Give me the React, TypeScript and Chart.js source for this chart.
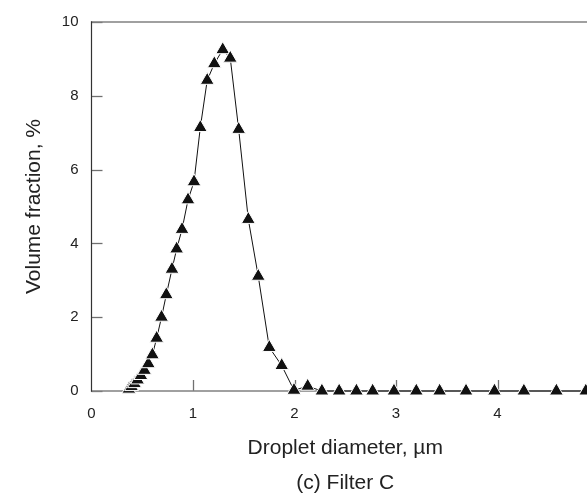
import React, { useEffect, useRef } from "react";
import { Chart, registerables } from "chart.js";

Chart.register(...registerables);

const diameters = [
  0.368, 0.395, 0.424, 0.454, 0.487, 0.522, 0.56, 0.6, 0.642, 0.69, 0.737,
  0.793, 0.839, 0.892, 0.951, 1.01, 1.072, 1.14, 1.21, 1.293, 1.367, 1.45,
  1.545, 1.643, 1.752, 1.874, 1.995, 2.13, 2.27, 2.44, 2.61, 2.77, 2.98, 3.2,
  3.43, 3.69, 3.97, 4.26, 4.58, 4.87,
];
const volumeFraction = [
  0.05, 0.12, 0.2, 0.3, 0.42, 0.56, 0.74, 0.98, 1.43, 2.0, 2.61, 3.3, 3.85,
  4.38, 5.18, 5.67, 7.14, 8.42, 8.87, 9.25, 9.02, 7.09, 4.65, 3.11, 1.18, 0.69,
  0.02, 0.13, 0, 0, 0, 0, 0, 0, 0, 0, 0, 0, 0, 0,
];
const xTickValues = [0, 1, 2, 3, 4, 5];
const yTickValues = [0, 2, 4, 6, 8, 10];

const xTitle = "Droplet diameter, µm";
const caption = "(c) Filter C";
const yTitle = "Volume fraction, %";

const FONT = "'Liberation Sans', Arial, sans-serif";

const framePlugin = {
  id: "frame",
  beforeDatasetsDraw(chart: any) {
    const { ctx, chartArea } = chart;
    const { left, right, top, bottom } = chartArea;
    const xs = chart.scales.x;
    const ys = chart.scales.y;
    ctx.save();
    ctx.strokeStyle = "#707070";
    ctx.lineWidth = 1.3;
    for (const v of yTickValues) {
      const y = Math.round(ys.getPixelForValue(v)) + 0.5;
      ctx.beginPath();
      ctx.moveTo(left, y);
      ctx.lineTo(left + 11, y);
      ctx.stroke();
    }
    for (const v of xTickValues) {
      if (v === 0) continue;
      const x = Math.round(xs.getPixelForValue(v)) + 0.5;
      ctx.beginPath();
      ctx.moveTo(x, bottom);
      ctx.lineTo(x, bottom - 11);
      ctx.stroke();
    }
    ctx.strokeStyle = "#808080";
    ctx.lineWidth = 1.6;
    ctx.beginPath();
    ctx.moveTo(left, top);
    ctx.lineTo(right + 30, top);
    ctx.stroke();
    ctx.beginPath();
    ctx.moveTo(left, bottom);
    ctx.lineTo(right + 30, bottom);
    ctx.stroke();
    ctx.strokeStyle = "#333333";
    ctx.lineWidth = 1.2;
    ctx.beginPath();
    ctx.moveTo(left, top - 0.8);
    ctx.lineTo(left, bottom + 0.8);
    ctx.stroke();
    ctx.restore();
  },
};

export default function App() {
  const canvasRef = useRef<HTMLCanvasElement | null>(null);

  useEffect(() => {
    document.body.style.margin = "0";
    const canvas = canvasRef.current;
    if (!canvas) return;
    const chart = new Chart(canvas, {
      type: "line",
      data: {
        datasets: [
          {
            data: diameters.map((d, i) => ({ x: d, y: volumeFraction[i] })),
            borderColor: "#111111",
            borderWidth: 1,
            pointStyle: "triangle",
            pointRadius: 8,
            pointBackgroundColor: "#111111",
            pointBorderColor: "#ffffff",
            pointBorderWidth: 1,
            tension: 0,
            fill: false,
            clip: false,
          } as any,
        ],
      },
      options: {
        responsive: false,
        animation: false,
        devicePixelRatio: 1,
        layout: { padding: { left: 0, right: 21, top: 16, bottom: 0 } },
        plugins: {
          legend: { display: false },
          tooltip: { enabled: false },
          title: { display: false },
        },
        scales: {
          x: {
            type: "linear",
            min: 0,
            max: 5,
            afterBuildTicks: (scale: any) => {
              scale.ticks = xTickValues.map((v) => ({ value: v }));
            },
            afterFit: (scale: any) => {
              scale.height = 110;
            },
            grid: { display: false, drawTicks: false },
            border: { display: false },
            ticks: {
              padding: 14,
              color: "#222222",
              font: { family: FONT, size: 15 },
              maxRotation: 0,
              autoSkip: false,
            },
            title: {
              display: true,
              text: [xTitle, caption],
              color: "#222222",
              font: { family: FONT, size: 21, lineHeight: 1.69 },
              padding: { top: 0, bottom: 0 },
            },
          },
          y: {
            type: "linear",
            min: 0,
            max: 10,
            afterBuildTicks: (scale: any) => {
              scale.ticks = yTickValues.map((v) => ({ value: v }));
            },
            afterFit: (scale: any) => {
              scale.width = 91.5;
            },
            grid: { display: false, drawTicks: false },
            border: { display: false },
            ticks: {
              padding: 13,
              color: "#222222",
              font: { family: FONT, size: 15 },
            },
            title: {
              display: true,
              text: yTitle,
              color: "#222222",
              font: { family: FONT, size: 21, lineHeight: 1.2 },
              padding: { top: 22, bottom: 0 },
            },
          },
        },
      },
      plugins: [framePlugin],
    });
    return () => chart.destroy();
  }, []);

  return (
    <div style={{ width: 587, height: 495, overflow: "hidden", position: "relative", background: "#fff" }}>
      <canvas ref={canvasRef} width={620} height={501} style={{ display: "block" }} />
    </div>
  );
}
